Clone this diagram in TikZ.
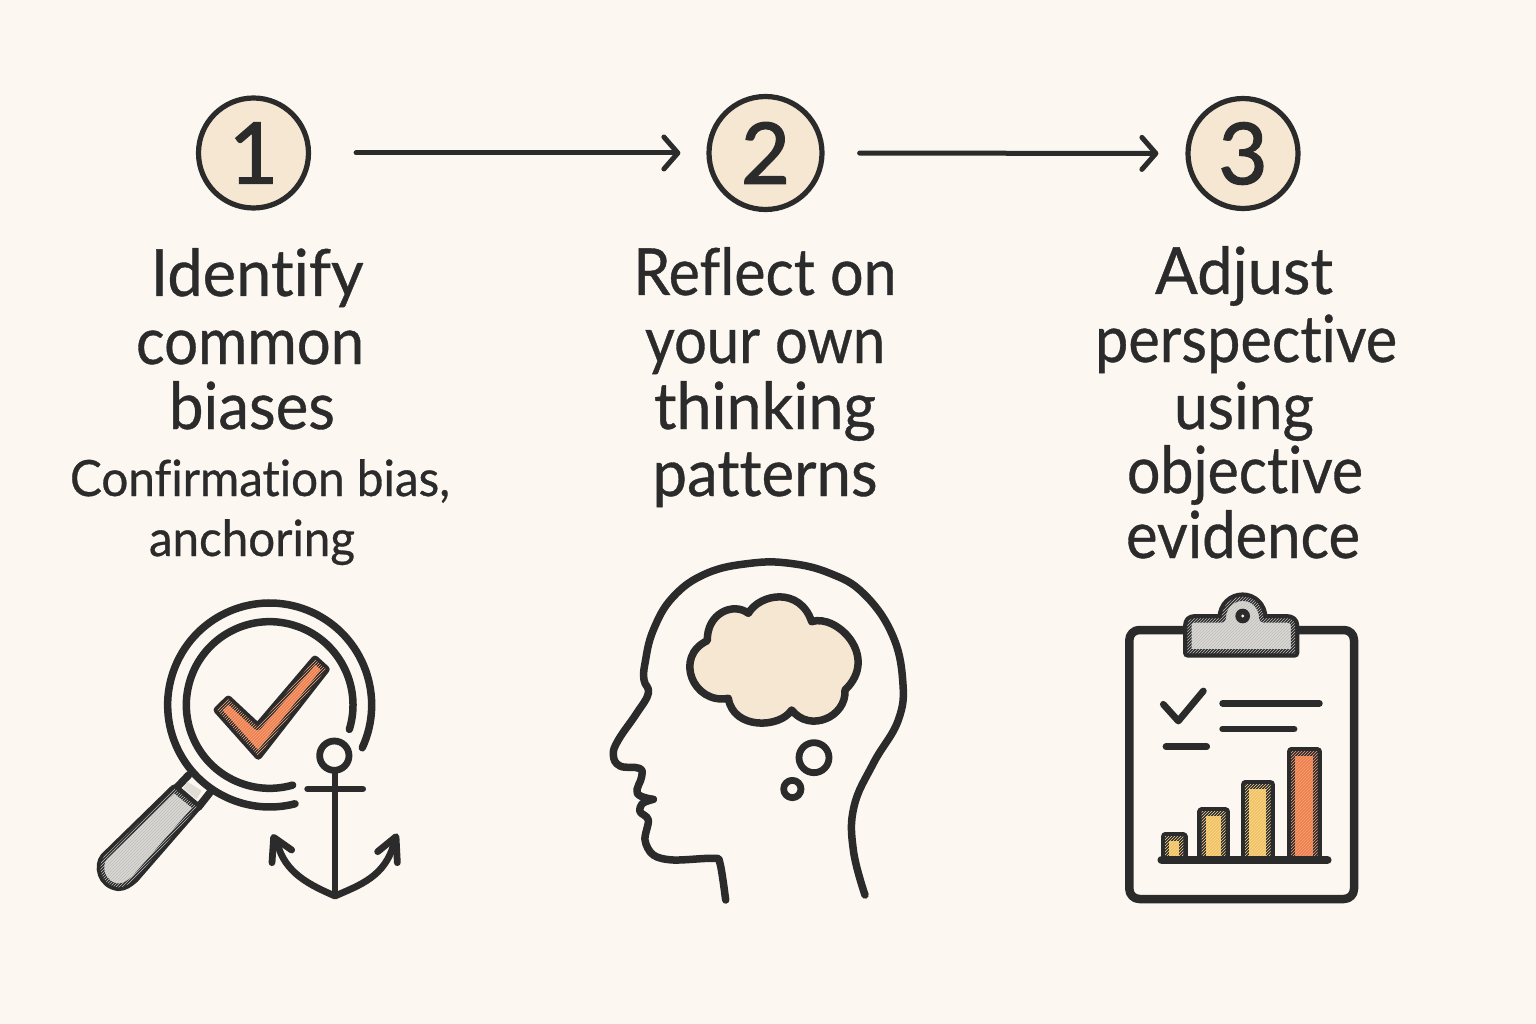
\documentclass[tikz,border=0pt]{standalone}
\usepackage{fontspec}
\usepackage{graphicx}
\setmainfont[Ligatures=NoCommon,FakeBold=0.6]{Lato}
\newfontfamily\digitfont[FakeBold=1.6]{Lato}
\usetikzlibrary{arrows.meta,patterns}
\definecolor{paper}{HTML}{FCF7F0}
\definecolor{ink}{HTML}{2B2B2B}
\definecolor{sand}{HTML}{F5E7D2}
\definecolor{coral}{HTML}{EF7F4C}
\definecolor{amber}{HTML}{F2C25E}
\definecolor{steel}{HTML}{D9D7D1}
\newcommand{\fitw}[2]{\resizebox{#1pt}{\height}{#2}}
\tikzset{
  stepdisc/.style={circle,draw=ink,fill=sand,line width=5.2pt,minimum size=110pt,inner sep=0pt,text=ink,font=\digitfont\fontsize{85}{85}\selectfont},
  flow/.style={draw=ink,line width=5pt,line cap=round,-{Straight Barb[length=14pt,width=32pt,line width=5pt,round]}},
  big/.style={anchor=base,inner sep=0pt,text=ink,font=\fontsize{65}{70}\selectfont},
  small/.style={anchor=base,inner sep=0pt,text=ink,font=\fontsize{50}{55}\selectfont},
  icon/.style={draw=ink,line width=7.5pt,line cap=round,line join=round},
  thin/.style={icon,line width=6.8pt},
  thick/.style={icon,line width=8.5pt},
  zoomA/.style={shift={(80,580)},x=0.33333pt,y=-0.33333pt},
  zoomB/.style={shift={(590,550)},x=0.33333pt,y=-0.33333pt},
  zoomC/.style={shift={(1110,585)},x=0.33333pt,y=-0.33333pt},
}
\begin{document}
\begin{tikzpicture}[x=1pt,y=-1pt]
\useasboundingbox (0,0) rectangle (1536,1024);
\fill[paper] (0,0) rectangle (1536,1024);

% step discs and connectors
\node[stepdisc] (c1) at (253.5,153) {1};
\node[stepdisc,minimum size=113pt] (c2) at (765.5,153) {2};
\node[stepdisc] (c3) at (1243,153.5) {3};
\draw[flow,shorten <=45pt,shorten >=26pt] (c1) -- (c2);
\draw[flow,shorten <=35pt,shorten >=27pt] (c2) -- (c3);

% column 1
\node[big] (a1) at (257,296) {\fitw{213}{Identify}};
\node[big] (a2) at (250,364) {\fitw{228}{common}};
\node[big] (a3) at (252,429) {\fitw{166}{biases}};
\node[small] (a4) at (260,496) {\fitw{380}{Confirmation bias,}};
\node[small] (a5) at (252,556) {\fitw{206}{anchoring}};
% column 2
\node[big] (b1) at (765,295) {\fitw{263}{Reflect on}};
\node[big] (b2) at (765,363) {\fitw{240}{your own}};
\node[big] (b3) at (765,429) {\fitw{222}{thinking}};
\node[big] (b4) at (765,496) {\fitw{225}{patterns}};
% column 3
\node[big] (d1) at (1244,294) {\fitw{178}{Adjust}};
\node[big] (d2) at (1246,362) {\fitw{302}{perspective}};
\node[big] (d3) at (1244,429) {\fitw{140}{using}};
\node[big] (d4) at (1245,493) {\fitw{236}{objective}};
\node[big] (d5) at (1243,558) {\fitw{234}{evidence}};

% magnifier and anchor
\begin{scope}[zoomA]
  \draw[icon,fill=paper] (326,585) -- (288,625) -- (355,682) -- (392,635);
  \draw[icon,fill=steel,postaction={pattern=north east lines,pattern color=ink!30}]
     (282,625) -- (72,830) .. controls (50,855) and (60,915) .. (115,922)
     .. controls (135,922) and (150,910) .. (165,897) -- (352,682) -- cycle;
  \fill[steel!80!paper] (322,605) -- (365,632) -- (350,658) -- (310,625) -- cycle;
  \draw[icon] (569,375) ++(24.8:306) arc[start angle=24.8,end angle=-284.4,radius=306];
  \draw[icon] (569,375) ++(17:250) arc[start angle=17,end angle=-286,radius=250];
  \draw[icon,fill=coral,postaction={pattern=north east lines,pattern color=paper!35!coral}]
     (412,390) -- (445,358) -- (533,440) -- (705,238) -- (738,268) -- (535,528) -- cycle;
  \draw[thin] (763,527) circle[radius=44];
  \draw[thin] (765,572) -- (765,945);
  \draw[thin] (683,627) -- (848,627);
  \draw[thin] (592,790) .. controls (615,880) and (690,915) .. (765,948)
              .. controls (840,915) and (915,890) .. (942,790);
  \draw[thin] (576,848) -- (581,772) -- (635,810);
  \draw[thin] (893,815) -- (948,770) -- (952,848);
\end{scope}

% head
\begin{scope}[zoomB]
  \draw[icon] plot[smooth,tension=0.7] coordinates {
    (825,1035) (790,900) (792,770) (850,640) (925,510) (938,390) (905,250) (820,130)
    (720,70) (600,40) (480,40) (350,70) (250,140) (190,240) (165,340) (162,390) (175,430)
    (140,490) (85,570) (70,615) (90,648) (148,655) (155,680) (142,730) (190,748)};
  \draw[icon] plot[smooth,tension=0.55] coordinates {
    (190,748) (158,760) (150,785) (175,810) (165,870) (190,915) (250,930) (370,925) (390,940) (407,1050)};
  \draw[icon,fill=sand] (475,190) .. controls (510,130) and (630,110) .. (665,215)
    .. controls (740,190) and (870,320) .. (765,420)
    .. controls (770,500) and (660,550) .. (605,480)
    .. controls (570,535) and (430,540) .. (415,445)
    .. controls (310,465) and (250,320) .. (352,272)
    .. controls (350,190) and (430,155) .. (475,190) -- cycle;
  \draw[thin] (672,623) circle[radius=45];
  \draw[thin] (607,717) circle[radius=26];
\end{scope}

% clipboard
\begin{scope}[zoomC]
  \draw[thick,rounded corners=10pt] (58,135) rectangle (732,942);
  \draw[thick,fill=steel,postaction={pattern=north east lines,pattern color=ink!30}]
    (232,205) -- (232,122) .. controls (232,108) and (240,100) .. (255,100) -- (335,100)
    .. controls (335,60) and (365,35) .. (398,35) .. controls (430,35) and (460,60) .. (460,100)
    -- (530,100) .. controls (545,100) and (555,108) .. (555,122) -- (555,205) -- cycle;
  \fill[ink] (398,93) circle[radius=22];
  \fill[paper] (398,93) circle[radius=5];
  \draw[thin] (160,358) -- (205,408) -- (280,318);
  \draw[thin] (338,355) -- (628,355);
  \draw[thin] (338,432) -- (552,432);
  \draw[thin] (168,485) -- (290,485);
  \draw[thick,fill=amber,postaction={pattern=north east lines,pattern color=paper!40!amber}] (165,820) -- (165,755) -- (220,755) -- (220,820);
  \draw[thick,fill=amber,postaction={pattern=north east lines,pattern color=paper!40!amber}] (275,820) -- (275,680) -- (347,680) -- (347,820);
  \draw[thick,fill=amber,postaction={pattern=north east lines,pattern color=paper!40!amber}] (405,820) -- (405,598) -- (482,598) -- (482,820);
  \draw[thick,fill=coral,postaction={pattern=north east lines,pattern color=paper!30!coral}] (543,820) -- (543,500) -- (623,500) -- (623,820);
  \draw[thick] (155,825) -- (652,825);
\end{scope}
\end{tikzpicture}
\end{document}
